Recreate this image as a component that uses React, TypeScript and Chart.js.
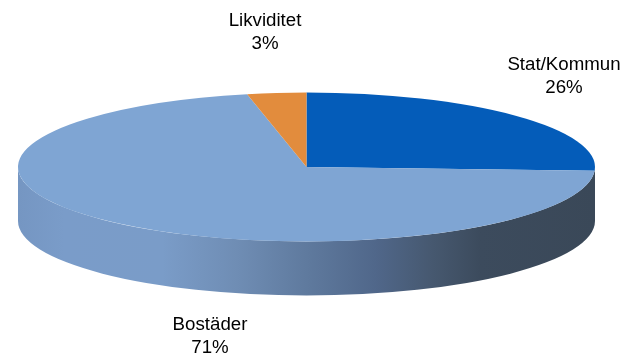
import React, { useEffect, useRef } from "react";
import { Chart, registerables } from "chart.js";

Chart.register(...registerables);

const categories = ["Stat/Kommun", "Bostäder", "Likviditet"];
const shares = [25.8, 70.9, 3.3];
const sliceColors = ["#045CB9", "#7FA5D3", "#E28C3D"];
const labelCenters = [
  [564, 65],
  [210, 325],
  [265, 21],
];

const FONT = '18.7px "Liberation Sans", Arial, sans-serif';
const SQUASH = 0.258;
const DEPTH = 54;

const piePerspective = {
  id: "piePerspective",
  beforeDatasetsDraw(chart: any) {
    const { ctx } = chart;
    const arc = chart.getDatasetMeta(0).data[0];
    const { x, y, outerRadius: r } = arc;
    const ry = r * SQUASH;
    const g = ctx.createLinearGradient(x - r, 0, x + r, 0);
    g.addColorStop(0, "#7596C2");
    g.addColorStop(0.08, "#7A9CC9");
    g.addColorStop(0.25, "#7A9CC8");
    g.addColorStop(0.38, "#6F8DB4");
    g.addColorStop(0.5, "#5F7A9E");
    g.addColorStop(0.62, "#50678A");
    g.addColorStop(0.72, "#46586F");
    g.addColorStop(0.8, "#3C4B5D");
    g.addColorStop(1, "#3A4858");
    ctx.save();
    ctx.beginPath();
    ctx.ellipse(x, y, r, ry, 0, Math.PI, 0, true);
    ctx.lineTo(x + r, y + DEPTH);
    ctx.ellipse(x, y + DEPTH, r, ry, 0, 0, Math.PI, false);
    ctx.closePath();
    ctx.fillStyle = g;
    ctx.fill();
    ctx.restore();
    ctx.save();
    ctx.translate(x, y);
    ctx.scale(1, SQUASH);
    ctx.translate(-x, -y);
  },
  afterDatasetsDraw(chart: any) {
    const { ctx } = chart;
    ctx.restore();
    ctx.save();
    ctx.font = FONT;
    ctx.fillStyle = "#000";
    ctx.textAlign = "center";
    ctx.textBaseline = "middle";
    categories.forEach((c, i) => {
      const [lx, ly] = labelCenters[i];
      ctx.fillText(c, lx, ly);
      ctx.fillText(Math.round(shares[i]) + "%", lx, ly + 23);
    });
    ctx.restore();
  },
};

export default function App() {
  const ref = useRef<HTMLCanvasElement>(null);
  useEffect(() => {
    const chart = new Chart(ref.current!, {
      type: "pie",
      data: {
        labels: categories,
        datasets: [
          {
            data: shares,
            backgroundColor: sliceColors,
            borderWidth: 0,
            radius: 288.5,
            clip: false,
          } as any,
        ],
      },
      options: {
        responsive: false,
        animation: false,
        layout: { padding: { left: 0, top: 0, right: 9, bottom: 21 } },
        plugins: { legend: { display: false }, tooltip: { enabled: false } },
      },
      plugins: [piePerspective],
    });
    return () => chart.destroy();
  }, []);
  return (
    <div style={{ position: "absolute", left: 0, top: 0, width: 622, height: 355, background: "#fff" }}>
      <canvas ref={ref} width={622} height={355} style={{ display: "block" }} />
    </div>
  );
}
